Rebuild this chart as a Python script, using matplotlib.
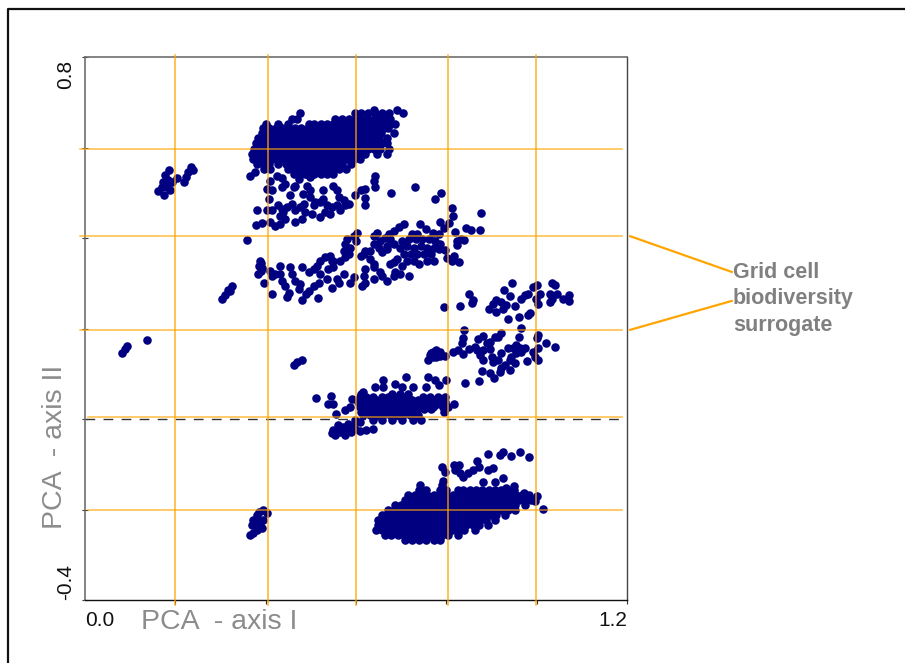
import matplotlib
matplotlib.use("Agg")
import matplotlib.pyplot as plt
from matplotlib.lines import Line2D

plt.rcParams['font.family'] = ['Liberation Sans', 'DejaVu Sans']

# dense clouds: (axis II value, axis I values)
top_rows = [
    (0.683, [0.639, 0.691]),
    (0.677, [0.476, 0.598, 0.612, 0.626, 0.642, 0.658, 0.673, 0.704]),
    (0.664, [0.458, 0.470, 0.554, 0.568, 0.584, 0.598, 0.611, 0.625, 0.639, 0.653, 0.667, 0.676]),
    (0.653, [0.400, 0.428, 0.449, 0.495, 0.508, 0.522, 0.536, 0.550, 0.564, 0.578, 0.592, 0.606, 0.620, 0.634, 0.648, 0.662, 0.676, 0.687]),
    (0.642, [0.395, 0.408, 0.423, 0.437, 0.451, 0.465, 0.479, 0.493, 0.507, 0.521, 0.535, 0.549, 0.563, 0.577, 0.591, 0.605, 0.619, 0.633, 0.647, 0.661, 0.670]),
    (0.631, [0.391, 0.404, 0.418, 0.432, 0.446, 0.460, 0.474, 0.488, 0.502, 0.516, 0.530, 0.544, 0.558, 0.572, 0.586, 0.600, 0.614, 0.628, 0.642, 0.656, 0.684]),
    (0.620, [0.384, 0.398, 0.412, 0.426, 0.440, 0.454, 0.468, 0.482, 0.496, 0.510, 0.524, 0.538, 0.552, 0.566, 0.580, 0.594, 0.608, 0.622, 0.636, 0.650, 0.668]),
    (0.609, [0.379, 0.392, 0.406, 0.420, 0.434, 0.448, 0.462, 0.476, 0.490, 0.504, 0.518, 0.532, 0.546, 0.560, 0.574, 0.588, 0.602, 0.616, 0.630, 0.644, 0.658, 0.668]),
    (0.597, [0.374, 0.388, 0.402, 0.416, 0.430, 0.444, 0.458, 0.472, 0.486, 0.500, 0.514, 0.528, 0.542, 0.556, 0.570, 0.584, 0.598, 0.612, 0.626, 0.640, 0.654, 0.673]),
    (0.586, [0.369, 0.382, 0.396, 0.410, 0.424, 0.438, 0.452, 0.466, 0.480, 0.494, 0.508, 0.522, 0.536, 0.550, 0.564, 0.578, 0.592, 0.606, 0.621, 0.647, 0.669]),
    (0.575, [0.371, 0.385, 0.399, 0.413, 0.427, 0.441, 0.455, 0.469, 0.483, 0.497, 0.511, 0.525, 0.539, 0.553, 0.567, 0.581, 0.595, 0.609]),
    (0.564, [0.380, 0.394, 0.408, 0.428, 0.444, 0.458, 0.472, 0.486, 0.500, 0.514, 0.528, 0.542, 0.556, 0.570, 0.590]),
    (0.553, [0.396, 0.410, 0.450, 0.464, 0.478, 0.492, 0.506, 0.520, 0.534, 0.548, 0.562, 0.578]),
    (0.542, [0.462, 0.476, 0.492, 0.506, 0.522, 0.536, 0.548]),
]

bottom_rows = [
    (-0.146, [0.742, 0.790]),
    (-0.157, [0.740, 0.754, 0.785, 0.800, 0.825, 0.838, 0.852, 0.866, 0.880, 0.894, 0.908, 0.922, 0.936, 0.950]),
    (-0.168, [0.716, 0.730, 0.744, 0.758, 0.772, 0.786, 0.800, 0.814, 0.828, 0.842, 0.856, 0.870, 0.884, 0.898, 0.912, 0.926, 0.940, 0.954, 0.968, 0.982]),
    (-0.179, [0.708, 0.722, 0.736, 0.750, 0.764, 0.778, 0.792, 0.806, 0.820, 0.834, 0.848, 0.862, 0.876, 0.890, 0.904, 0.918, 0.932, 0.946, 0.960, 0.974, 0.988]),
    (-0.190, [0.686, 0.700, 0.714, 0.728, 0.742, 0.756, 0.770, 0.784, 0.798, 0.812, 0.826, 0.840, 0.854, 0.868, 0.882, 0.896, 0.910, 0.924, 0.938, 0.952, 0.974]),
    (-0.201, [0.671, 0.684, 0.698, 0.712, 0.726, 0.740, 0.754, 0.768, 0.782, 0.796, 0.810, 0.824, 0.838, 0.852, 0.866, 0.880, 0.894, 0.908, 0.922, 0.936, 0.952]),
    (-0.212, [0.658, 0.672, 0.686, 0.700, 0.714, 0.728, 0.742, 0.756, 0.770, 0.784, 0.798, 0.812, 0.826, 0.840, 0.854, 0.868, 0.882, 0.896, 0.910, 0.930]),
    (-0.223, [0.649, 0.664, 0.678, 0.692, 0.706, 0.720, 0.734, 0.748, 0.762, 0.776, 0.790, 0.804, 0.818, 0.832, 0.846, 0.860, 0.874, 0.888, 0.908]),
    (-0.234, [0.649, 0.662, 0.676, 0.690, 0.704, 0.718, 0.732, 0.746, 0.760, 0.774, 0.788, 0.802, 0.816, 0.830, 0.844, 0.858, 0.872, 0.892]),
    (-0.245, [0.644, 0.658, 0.672, 0.686, 0.700, 0.714, 0.728, 0.742, 0.756, 0.770, 0.784, 0.798, 0.812, 0.826, 0.840, 0.863]),
    (-0.256, [0.664, 0.678, 0.692, 0.706, 0.720, 0.734, 0.748, 0.762, 0.776, 0.790, 0.804, 0.826]),
    (-0.267, [0.708, 0.724, 0.740, 0.756, 0.772, 0.786]),
]

middle_rows = [
    (0.056, [0.612, 0.679, 0.697, 0.716]),
    (0.049, [0.609, 0.623, 0.638, 0.657, 0.671, 0.686, 0.701, 0.716, 0.749, 0.764, 0.782, 0.797]),
    (0.043, [0.616, 0.630, 0.645, 0.662, 0.678, 0.694, 0.708, 0.724, 0.738, 0.756, 0.772, 0.790]),
    (0.038, [0.605, 0.620, 0.634, 0.649, 0.664, 0.679, 0.693, 0.708, 0.723, 0.738, 0.752, 0.767, 0.782, 0.797]),
    (0.032, [0.612, 0.627, 0.642, 0.656, 0.672, 0.686, 0.701, 0.716, 0.730, 0.746, 0.760, 0.776, 0.790]),
    (0.027, [0.609, 0.623, 0.638, 0.653, 0.668, 0.682, 0.697, 0.712, 0.727, 0.741, 0.756, 0.771, 0.793, 0.804]),
    (0.021, [0.616, 0.631, 0.646, 0.660, 0.676, 0.690, 0.704, 0.720, 0.734, 0.750, 0.766]),
    (0.016, [0.612, 0.627, 0.642, 0.657, 0.671, 0.686, 0.701, 0.716, 0.730, 0.795]),
    (0.008, [0.616, 0.631, 0.645, 0.660, 0.675, 0.690, 0.704, 0.719, 0.738]),
    (-0.003, [0.638, 0.657, 0.679, 0.701, 0.727, 0.745]),
]

# scattered groups
upper_x = [0.365, 0.377, 0.410, 0.425, 0.436, 0.443, 0.436, 0.404, 0.408, 0.414, 0.380, 0.402, 0.414, 0.428, 0.436, 0.447,
           0.458, 0.453, 0.462, 0.473, 0.488, 0.499, 0.465, 0.491, 0.499, 0.482, 0.499, 0.432, 0.439, 0.443, 0.432, 0.421,
           0.410, 0.391, 0.379, 0.465, 0.480, 0.488, 0.476, 0.484, 0.465, 0.502, 0.521, 0.532, 0.543, 0.547, 0.536, 0.521,
           0.510, 0.506, 0.528, 0.527, 0.550, 0.558, 0.562, 0.573, 0.576, 0.565, 0.558, 0.584, 0.597, 0.612, 0.621, 0.619,
           0.621, 0.643, 0.639, 0.641, 0.678, 0.730, 0.774, 0.789, 0.812, 0.814, 0.876]
upper_y = [0.536, 0.546, 0.527, 0.538, 0.533, 0.520, 0.512, 0.509, 0.486, 0.505, 0.461, 0.462, 0.462, 0.472, 0.464, 0.468,
           0.475, 0.494, 0.512, 0.531, 0.542, 0.535, 0.516, 0.516, 0.505, 0.498, 0.490, 0.449, 0.457, 0.442, 0.431, 0.427,
           0.436, 0.433, 0.429, 0.435, 0.442, 0.457, 0.468, 0.475, 0.461, 0.452, 0.446, 0.457, 0.453, 0.468, 0.472, 0.479,
           0.479, 0.472, 0.486, 0.506, 0.516, 0.505, 0.490, 0.483, 0.472, 0.461, 0.472, 0.475, 0.495, 0.506, 0.509, 0.489,
           0.472, 0.538, 0.527, 0.512, 0.499, 0.512, 0.487, 0.499, 0.467, 0.449, 0.455]

band_x = [0.359, 0.706, 0.695, 0.684, 0.673, 0.647, 0.639, 0.602, 0.595, 0.580, 0.576, 0.587, 0.573, 0.599, 0.741, 0.754,
          0.724, 0.735, 0.770, 0.787, 0.795, 0.806, 0.784, 0.819, 0.843, 0.855, 0.874, 0.824, 0.839, 0.832, 0.824, 0.798,
          0.801, 0.817, 0.813, 0.829, 0.702, 0.717, 0.732, 0.747, 0.761, 0.776, 0.787, 0.698, 0.713, 0.728, 0.743, 0.758,
          0.772, 0.784, 0.706, 0.721, 0.735, 0.750, 0.765, 0.772, 0.713, 0.728, 0.739, 0.758, 0.702, 0.676, 0.665, 0.684,
          0.669, 0.654, 0.639, 0.650, 0.632, 0.621, 0.610, 0.617, 0.658, 0.669, 0.632, 0.639, 0.639, 0.684, 0.676, 0.691,
          0.621, 0.617, 0.687, 0.698, 0.717, 0.684, 0.654, 0.658, 0.669, 0.639, 0.621, 0.613, 0.595, 0.587, 0.573, 0.558,
          0.562, 0.547, 0.550, 0.565, 0.576, 0.584, 0.543, 0.532, 0.521, 0.513, 0.506, 0.495, 0.480, 0.547, 0.550, 0.539,
          0.521, 0.536, 0.517, 0.506, 0.495, 0.490, 0.454, 0.458, 0.465, 0.476, 0.473, 0.410, 0.414, 0.432, 0.432, 0.421,
          0.436, 0.443, 0.397, 0.415, 0.451, 0.447, 0.480, 0.516, 0.388, 0.386, 0.389, 0.384, 0.390, 0.391]
band_y = [0.396, 0.431, 0.424, 0.416, 0.409, 0.412, 0.405, 0.412, 0.405, 0.398, 0.387, 0.379, 0.372, 0.394, 0.430, 0.420,
          0.409, 0.409, 0.410, 0.435, 0.422, 0.433, 0.409, 0.413, 0.422, 0.418, 0.418, 0.394, 0.395, 0.398, 0.385, 0.373,
          0.355, 0.361, 0.350, 0.346, 0.394, 0.398, 0.398, 0.398, 0.398, 0.394, 0.387, 0.379, 0.383, 0.379, 0.383, 0.379,
          0.379, 0.375, 0.364, 0.364, 0.364, 0.364, 0.364, 0.350, 0.350, 0.350, 0.342, 0.350, 0.339, 0.398, 0.401, 0.387,
          0.383, 0.394, 0.387, 0.379, 0.372, 0.372, 0.361, 0.364, 0.368, 0.375, 0.353, 0.342, 0.335, 0.346, 0.342, 0.353,
          0.331, 0.316, 0.324, 0.320, 0.316, 0.316, 0.324, 0.316, 0.305, 0.310, 0.301, 0.294, 0.313, 0.301, 0.320, 0.309,
          0.301, 0.290, 0.350, 0.350, 0.357, 0.364, 0.361, 0.357, 0.350, 0.339, 0.331, 0.324, 0.335, 0.350, 0.335, 0.331,
          0.320, 0.309, 0.301, 0.294, 0.283, 0.277, 0.336, 0.320, 0.305, 0.299, 0.287, 0.327, 0.316, 0.338, 0.320, 0.320,
          0.305, 0.294, 0.301, 0.277, 0.279, 0.270, 0.264, 0.268, 0.350, 0.339, 0.327, 0.321, 0.345, 0.333]

right_x = [0.795, 0.830, 0.851, 0.859, 0.856, 0.946, 0.928, 0.941, 0.911, 0.904, 0.894, 0.911, 0.926, 0.933, 0.952, 0.922,
           0.937, 0.961, 0.981, 0.985, 0.966, 0.974, 0.981, 0.992, 1.000, 1.007, 0.998, 1.003, 1.033, 1.040, 1.029, 1.044,
           1.033, 1.029, 1.059, 1.072, 1.072, 0.840, 0.836, 0.834, 0.814, 0.826, 0.836, 0.850, 0.863, 0.871, 0.882, 0.867,
           0.874, 0.889, 0.896, 0.907, 0.915, 0.921, 0.965, 0.960, 0.882, 0.896, 0.882, 0.900, 0.904, 0.915, 0.922, 0.937,
           0.948, 0.955, 0.963, 0.974, 0.966, 0.955, 0.944, 0.941, 0.952, 0.992, 0.996, 1.003, 1.000, 1.003, 1.003, 0.978,
           1.020, 1.040, 0.930, 0.922, 0.919, 0.941, 0.878, 0.896, 0.905, 0.873, 0.842]
right_y = [0.248, 0.249, 0.277, 0.263, 0.257, 0.300, 0.286, 0.272, 0.263, 0.255, 0.242, 0.237, 0.242, 0.252, 0.249, 0.259,
           0.220, 0.226, 0.229, 0.235, 0.266, 0.274, 0.276, 0.292, 0.296, 0.276, 0.266, 0.255, 0.300, 0.296, 0.277, 0.277,
           0.266, 0.259, 0.266, 0.274, 0.261, 0.196, 0.178, 0.168, 0.148, 0.152, 0.143, 0.154, 0.159, 0.176, 0.184, 0.152,
           0.141, 0.167, 0.171, 0.182, 0.182, 0.191, 0.201, 0.182, 0.152, 0.154, 0.130, 0.137, 0.126, 0.130, 0.145, 0.158,
           0.156, 0.163, 0.156, 0.158, 0.148, 0.145, 0.136, 0.130, 0.123, 0.148, 0.137, 0.156, 0.178, 0.185, 0.130, 0.129,
           0.167, 0.159, 0.119, 0.112, 0.104, 0.109, 0.106, 0.101, 0.091, 0.084, 0.080]

knot_x = [0.778, 0.771, 0.786, 0.764, 0.775, 0.786, 0.797, 0.760, 0.771, 0.778, 0.767]
knot_y = [0.152, 0.148, 0.148, 0.141, 0.141, 0.139, 0.139, 0.130, 0.136, 0.136, 0.145]

mid_edge_x = [0.710, 0.760, 0.776, 0.799, 0.784, 0.756, 0.660, 0.686, 0.642, 0.660, 0.616, 0.701, 0.727, 0.544, 0.538, 0.550,
              0.575, 0.586, 0.555, 0.592, 0.817, 0.511, 0.597, 0.609, 0.583, 0.594, 0.572, 0.561, 0.550, 0.564, 0.579, 0.590,
              0.609, 0.623, 0.638, 0.553, 0.575, 0.546, 0.597]
mid_edge_y = [0.093, 0.093, 0.087, 0.086, 0.075, 0.071, 0.086, 0.078, 0.071, 0.071, 0.060, 0.071, 0.070, 0.050, 0.033, 0.034,
              0.019, 0.027, 0.011, 0.045, 0.034, 0.046, -0.003, -0.006, -0.010, -0.014, -0.017, -0.014, -0.025, -0.028, -0.025, -0.028,
              -0.027, -0.025, -0.022, -0.036, -0.036, -0.032, -0.021]

left_x = [0.186, 0.177, 0.173, 0.170, 0.162, 0.175, 0.188, 0.193, 0.204, 0.184, 0.182, 0.235, 0.239, 0.228, 0.224, 0.219,
          0.089, 0.082, 0.093, 0.137, 0.480, 0.469, 0.463, 0.325, 0.317, 0.310, 0.303, 0.322]
left_y = [0.550, 0.539, 0.524, 0.513, 0.504, 0.495, 0.506, 0.524, 0.533, 0.528, 0.513, 0.557, 0.550, 0.546, 0.535, 0.524,
          0.155, 0.146, 0.161, 0.175, 0.130, 0.126, 0.119, 0.294, 0.285, 0.274, 0.265, 0.283]

low_left_x = [0.394, 0.403, 0.381, 0.372, 0.394, 0.370, 0.387, 0.381, 0.365, 0.372, 0.392, 0.385, 0.383]
low_left_y = [-0.201, -0.208, -0.212, -0.223, -0.223, -0.234, -0.234, -0.245, -0.256, -0.252, -0.241, -0.205, -0.225]

low_top_x = [0.893, 0.919, 0.926, 0.943, 0.963, 0.984, 0.867, 0.872, 0.892, 0.904, 0.790, 0.796, 0.816, 0.827, 0.819, 0.830,
             0.838, 0.849, 0.860, 0.925, 0.908, 0.881, 0.950, 0.932, 0.793, 1.013, 1.000, 0.996, 0.971]
low_top_y = [-0.077, -0.079, -0.074, -0.081, -0.072, -0.084, -0.092, -0.106, -0.112, -0.109, -0.106, -0.117, -0.101, -0.101, -0.112, -0.120,
             -0.129, -0.120, -0.112, -0.131, -0.140, -0.140, -0.147, -0.153, -0.138, -0.199, -0.171, -0.181, -0.164]

grid_x = [0.199, 0.405, 0.600, 0.804, 0.9985]
grid_y = [0.597, 0.404, 0.197, 0.004, -0.201]
tick_values_x = [0.2, 0.4, 0.6, 0.8, 1.0, 1.2]
tick_values_y = [-0.4, -0.2, 0.0, 0.2, 0.4, 0.6, 0.8]

ORANGE = '#ffa500'
NAVY = '#000080'
GRAY = '#8c8c8c'

fig = plt.figure(figsize=(9.05, 6.63), dpi=100)
ax = fig.add_axes([85 / 905, 63 / 663, 542 / 905, 543 / 663])
ax.set_xlim(0, 1.2)
ax.set_ylim(-0.4, 0.8)

# dots
xs = upper_x + band_x + right_x + knot_x + mid_edge_x + left_x + low_left_x + low_top_x
ys = upper_y + band_y + right_y + knot_y + mid_edge_y + left_y + low_left_y + low_top_y
for rows in (top_rows, bottom_rows, middle_rows):
    for y, row_x in rows:
        xs = xs + row_x
        ys = ys + [y] * len(row_x)
ax.scatter(xs, ys, s=38, color=NAVY, linewidths=0, zorder=3)

# zero line and the orange grid cells
ax.axhline(0, color='#333333', lw=1, dashes=(7, 6), zorder=2)
for gx in grid_x:
    ax.plot([gx, gx], [-0.411, 0.805], color=ORANGE, lw=1.1, alpha=0.85, clip_on=False, zorder=4)
for gy, start in zip(grid_y, [-0.011, -0.011, -0.011, 0.007, 0.007]):
    ax.plot([start, 1.19], [gy, gy], color=ORANGE, lw=1.1, alpha=0.75, clip_on=False, zorder=4)

# leader lines to the note
ax.plot([1.207, 1.432], [0.404, 0.325], color=ORANGE, lw=1.6, clip_on=False)
ax.plot([1.207, 1.432], [0.197, 0.261], color=ORANGE, lw=1.6, clip_on=False)

ax.set_xticks(tick_values_x)
ax.set_yticks(tick_values_y)
ax.set_xticklabels([])
ax.set_yticklabels([])
ax.tick_params(axis='x', direction='out', length=3, width=0.8, color='#333333')
ax.tick_params(axis='y', direction='inout', length=5, width=0.8, color='#333333')
for side in ('left', 'top'):
    ax.spines[side].set_color('#6e6e6e')
    ax.spines[side].set_linewidth(1.2)
ax.spines['right'].set_color('#444444')
ax.spines['right'].set_linewidth(1)
ax.spines['bottom'].set_color('#111111')
ax.spines['bottom'].set_linewidth(1)

# axis end labels
fig.text(85 / 905, 1 - 620 / 663, '0.0', fontsize=15, ha='left', va='center', color='#111111')
fig.text(627 / 905, 1 - 620 / 663, '1.2', fontsize=15, ha='right', va='center', color='#111111')
fig.text(66 / 905, 1 - 74 / 663, '0.8', fontsize=15, rotation=90, ha='center', va='center', color='#111111')
fig.text(66 / 905, 1 - 582 / 663, '-0.4', fontsize=15, rotation=90, ha='center', va='center', color='#111111')
fig.text(219 / 905, 1 - 622 / 663, 'PCA  - axis I', fontsize=20.5, ha='center', va='center', color=GRAY)
fig.text(55 / 905, 1 - 447 / 663, 'PCA  - axis II', fontsize=20.5, rotation=90, ha='center', va='center', color=GRAY)

for line, py in zip(['Grid cell', 'biodiversity', 'surrogate'], [273, 299, 325]):
    fig.text(733 / 905, 1 - py / 663, line, fontsize=15.5, fontweight='bold', ha='left', va='center', color='#808080')

# outer frame, open on the right and at the bottom
fig.add_artist(Line2D([8 / 905, 8 / 905, 1], [0, 1 - 9 / 663, 1 - 9 / 663], color='#111111', lw=1.6))

fig.savefig('out.png', dpi=100)
